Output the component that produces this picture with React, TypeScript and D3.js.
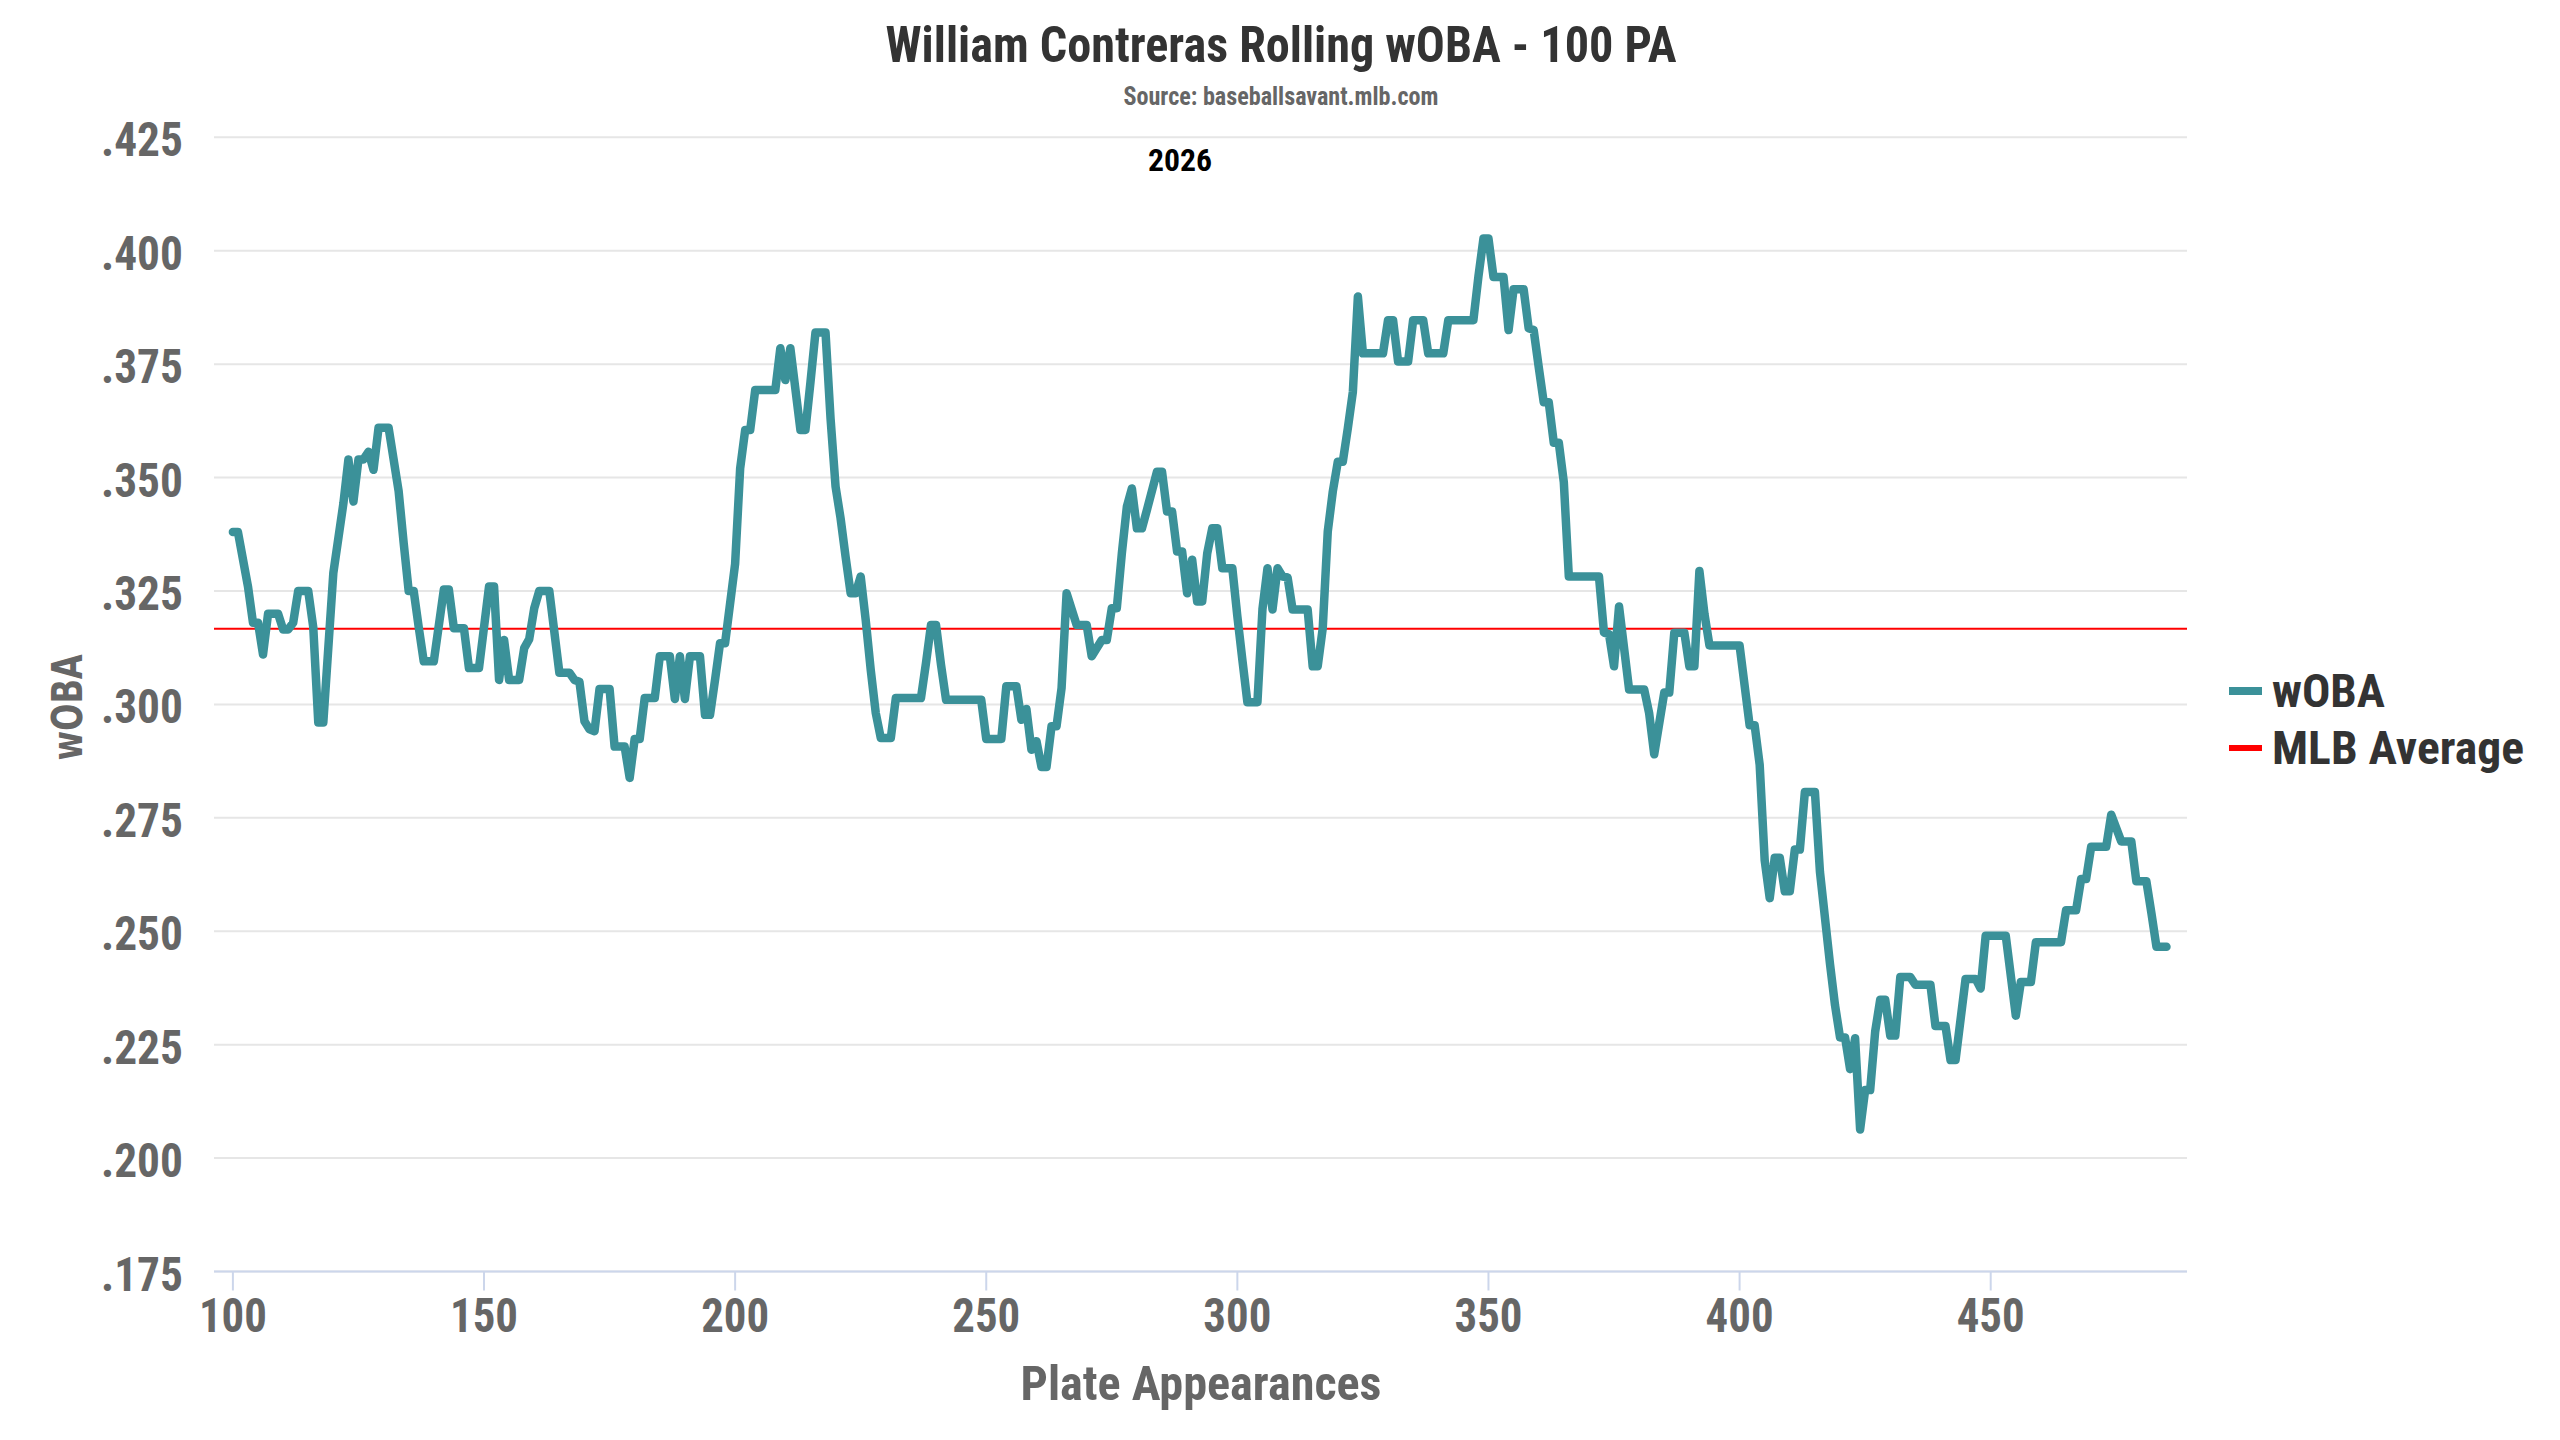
import React from "react";
import * as d3 from "d3";

const PA_VALUES = [
  100, 101, 103, 104, 105, 106, 107, 109, 110, 111, 112, 113, 115, 116, 117, 118, 120, 122, 123, 124,
  125, 126, 127, 128, 129, 131, 133, 134, 135, 136, 137, 138, 140, 142, 143, 144, 146, 147, 149, 151,
  152, 153, 154, 155, 157, 158, 159, 160, 161, 163, 165, 167, 168, 169, 170, 171, 172, 173, 175, 176,
  178, 179, 180, 181, 182, 184, 185, 187, 188, 189, 190, 191, 193, 194, 195, 196, 197, 198, 200, 201,
  202, 203, 204, 208, 209, 210, 211, 213, 214, 215, 216, 218, 219, 220, 221, 222, 223, 224, 225, 226,
  227, 228, 229, 231, 232, 237, 238, 239, 240, 241, 242, 249, 250, 253, 254, 256, 257, 258, 259, 260,
  261, 262, 263, 264, 265, 266, 268, 270, 271, 273, 274, 275, 276, 277, 278, 279, 280, 281, 282, 284,
  285, 286, 287, 288, 289, 290, 291, 292, 293, 294, 295, 296, 297, 299, 300, 301, 302, 304, 305, 306,
  307, 308, 309, 310, 311, 314, 315, 316, 317, 318, 319, 320, 321, 322, 323, 324, 325, 329, 330, 331,
  332, 334, 335, 337, 338, 341, 342, 347, 348, 349, 350, 351, 353, 354, 355, 357, 358, 359, 360, 361,
  362, 363, 364, 365, 366, 372, 373, 374, 375, 376, 378, 381, 382, 383, 385, 386, 387, 389, 390, 391,
  392, 393, 394, 400, 402, 403, 404, 405, 406, 407, 408, 409, 410, 411, 412, 413, 415, 416, 418, 419,
  420, 421, 422, 423, 424, 425, 426, 427, 428, 429, 430, 431, 432, 434, 435, 438, 439, 441, 442, 443,
  445, 447, 448, 449, 453, 455, 456, 458, 459, 464, 465, 467, 468, 469, 470, 473, 474, 476, 478, 479,
  481, 482, 483, 485,
];

const WOBA_VALUES = [
  0.338, 0.338, 0.326, 0.318, 0.318, 0.311, 0.32, 0.32, 0.3165, 0.3165, 0.318, 0.325, 0.325, 0.317, 0.296, 0.296, 0.329, 0.3443, 0.354, 0.3447,
  0.354, 0.354, 0.3557, 0.3517, 0.361, 0.361, 0.347, 0.3356, 0.325, 0.325, 0.317, 0.3095, 0.3095, 0.3253, 0.3253, 0.3168, 0.3168, 0.308, 0.308, 0.326,
  0.326, 0.3054, 0.3142, 0.3054, 0.3054, 0.3124, 0.3144, 0.3212, 0.325, 0.325, 0.307, 0.307, 0.3054, 0.305, 0.2963, 0.2945, 0.2941, 0.3034, 0.3034, 0.2907,
  0.2907, 0.2838, 0.2924, 0.2924, 0.3014, 0.3014, 0.3106, 0.3106, 0.3012, 0.3106, 0.3012, 0.3106, 0.3106, 0.2977, 0.2977, 0.3054, 0.3135, 0.3135, 0.331, 0.352,
  0.3605, 0.3605, 0.3693, 0.3693, 0.3785, 0.3715, 0.3785, 0.3605, 0.3605, 0.371, 0.382, 0.382, 0.363, 0.348, 0.341, 0.3325, 0.3245, 0.3245, 0.3282, 0.3186,
  0.3076, 0.2981, 0.2926, 0.2926, 0.3014, 0.3014, 0.3091, 0.3175, 0.3175, 0.3087, 0.301, 0.301, 0.2924, 0.2924, 0.304, 0.304, 0.2966, 0.299, 0.29, 0.2919,
  0.2862, 0.2862, 0.2952, 0.2952, 0.3036, 0.3245, 0.3175, 0.3175, 0.3106, 0.3142, 0.3142, 0.3212, 0.3212, 0.3333, 0.3436, 0.3476, 0.3388, 0.3388, 0.3429, 0.3513,
  0.3513, 0.3425, 0.3425, 0.3337, 0.3337, 0.3245, 0.3319, 0.3227, 0.3227, 0.3333, 0.3388, 0.3388, 0.33, 0.33, 0.3194, 0.3098, 0.3005, 0.3005, 0.321, 0.33,
  0.3209, 0.33, 0.3282, 0.328, 0.3209, 0.3209, 0.3084, 0.3084, 0.3168, 0.3381, 0.3469, 0.3535, 0.3535, 0.3609, 0.3689, 0.3899, 0.3774, 0.3774, 0.3847, 0.3847,
  0.3756, 0.3756, 0.3847, 0.3847, 0.3774, 0.3774, 0.3847, 0.3847, 0.3943, 0.4027, 0.4027, 0.3942, 0.3942, 0.3825, 0.3915, 0.3915, 0.3829, 0.3825, 0.3744, 0.3666,
  0.3666, 0.3577, 0.3577, 0.349, 0.3282, 0.3282, 0.3158, 0.3155, 0.3084, 0.3216, 0.3033, 0.3033, 0.298, 0.289, 0.3026, 0.3026, 0.3158, 0.3158, 0.3084, 0.3084,
  0.3294, 0.32, 0.313, 0.313, 0.2954, 0.2954, 0.2867, 0.2656, 0.2573, 0.2662, 0.2662, 0.2588, 0.2588, 0.268, 0.268, 0.2807, 0.2807, 0.2631, 0.2428, 0.2337,
  0.2266, 0.2266, 0.2196, 0.2264, 0.2063, 0.215, 0.215, 0.2279, 0.2349, 0.2349, 0.227, 0.227, 0.2399, 0.2399, 0.2382, 0.2382, 0.2291, 0.2291, 0.2216, 0.2216,
  0.2395, 0.2395, 0.2374, 0.249, 0.249, 0.2314, 0.2388, 0.2388, 0.2476, 0.2476, 0.2546, 0.2546, 0.2615, 0.2615, 0.2686, 0.2686, 0.2757, 0.2698, 0.2698, 0.261,
  0.261, 0.254, 0.2466, 0.2466,
];

const MLB_AVERAGE = 0.3167;
const Y_TICKS = [0.175, 0.2, 0.225, 0.25, 0.275, 0.3, 0.325, 0.35, 0.375, 0.4, 0.425];
const X_TICKS = [100, 150, 200, 250, 300, 350, 400, 450];
const SERIES_NAMES = ["wOBA", "MLB Average"];
const TITLE = "William Contreras Rolling wOBA - 100 PA";
const SUBTITLE = "Source: baseballsavant.mlb.com";
const SEASON = "2026";

const W = 2560;
const H = 1440;
const PLOT_LEFT = 214;
const PLOT_RIGHT = 2187;
const TEAL = "#3b9199";
const RED = "#ff0000";
const COND = "'Roboto Condensed', 'Liberation Sans Narrow', 'DejaVu Sans Condensed', Roboto, sans-serif";

export default function App() {
  const x = d3.scaleLinear().domain([100, 450]).range([232.9, 1990.7]);
  const y = d3.scaleLinear().domain([0.175, 0.425]).range([1271.5, 137.3]);
  const points: [number, number][] = PA_VALUES.map((p, i) => [p, WOBA_VALUES[i]]);
  const line = d3
    .line<[number, number]>()
    .x((d) => x(d[0]))
    .y((d) => y(d[1]));
  const fmt = (v: number) => d3.format(".3f")(v).replace(/^0/, "");
  const yBottom = y(0.175);

  return (
    <div style={{ position: "absolute", left: 0, top: 0, width: W, height: H, background: "#fff" }}>
      <svg width={W} height={H} viewBox={`0 0 ${W} ${H}`} style={{ display: "block" }}>
        <rect x={0} y={0} width={W} height={H} fill="#ffffff" />
        {/* grid */}
        {Y_TICKS.map((t) => (
          <line key={`g${t}`} x1={PLOT_LEFT} x2={PLOT_RIGHT} y1={y(t)} y2={y(t)} stroke="#e6e6e6" strokeWidth={2} />
        ))}
        {/* x axis */}
        <line x1={PLOT_LEFT} x2={PLOT_RIGHT} y1={yBottom} y2={yBottom} stroke="#ccd6eb" strokeWidth={2} />
        {X_TICKS.map((t) => (
          <g key={`xt${t}`}>
            <line x1={x(t)} x2={x(t)} y1={yBottom} y2={yBottom + 19} stroke="#ccd6eb" strokeWidth={2} />
            <text
              x={x(t)}
              y={1332}
              textAnchor="middle"
              fontFamily={COND}
              fontWeight="bold"
              fontSize={49}
              fill="#666666"
              textLength={68}
              lengthAdjust="spacingAndGlyphs"
            >
              {t}
            </text>
          </g>
        ))}
        {/* y tick labels */}
        {Y_TICKS.map((t) => (
          <text
            key={`yt${t}`}
            x={183}
            y={y(t) + 19}
            textAnchor="end"
            fontFamily={COND}
            fontWeight="bold"
            fontSize={49}
            fill="#666666"
            textLength={82}
            lengthAdjust="spacingAndGlyphs"
          >
            {fmt(t)}
          </text>
        ))}
        {/* MLB average */}
        <line x1={PLOT_LEFT} x2={PLOT_RIGHT} y1={y(MLB_AVERAGE)} y2={y(MLB_AVERAGE)} stroke={RED} strokeWidth={2} />
        {/* wOBA series */}
        <path d={line(points) || ""} fill="none" stroke={TEAL} strokeWidth={8.5} strokeLinejoin="round" strokeLinecap="round" />
        {/* titles */}
        <text x={1281} y={62} textAnchor="middle" fontFamily={COND} fontWeight="bold" fontSize={50} fill="#333333" textLength={791} lengthAdjust="spacingAndGlyphs">
          {TITLE}
        </text>
        <text x={1281} y={105} textAnchor="middle" fontFamily={COND} fontWeight="bold" fontSize={25} fill="#666666" textLength={315} lengthAdjust="spacingAndGlyphs">
          {SUBTITLE}
        </text>
        <text x={1180} y={171} textAnchor="middle" fontFamily={COND} fontWeight="bold" fontSize={32} fill="#000000" textLength={64} lengthAdjust="spacingAndGlyphs">
          {SEASON}
        </text>
        <text x={1201} y={1400} textAnchor="middle" fontFamily={COND} fontWeight="bold" fontSize={48} fill="#666666" textLength={361} lengthAdjust="spacingAndGlyphs">
          Plate Appearances
        </text>
        <text
          transform={`translate(82, ${(y(0.175) + y(0.425)) / 2 + 3}) rotate(-90)`}
          textAnchor="middle"
          fontFamily="'DejaVu Sans', Roboto, sans-serif"
          fontWeight="bold"
          fontSize={42}
          fill="#666666"
          textLength={106}
          lengthAdjust="spacingAndGlyphs"
        >
          wOBA
        </text>
        {/* legend */}
        <line x1={2229} x2={2262} y1={691} y2={691} stroke={TEAL} strokeWidth={8} />
        <text x={2272} y={707} fontFamily={COND} fontWeight="bold" fontSize={46} fill="#333333" textLength={113} lengthAdjust="spacingAndGlyphs">
          {SERIES_NAMES[0]}
        </text>
        <line x1={2229} x2={2262} y1={748} y2={748} stroke={RED} strokeWidth={6} />
        <text x={2272} y={764} fontFamily={COND} fontWeight="bold" fontSize={46} fill="#333333" textLength={252} lengthAdjust="spacingAndGlyphs">
          {SERIES_NAMES[1]}
        </text>
      </svg>
    </div>
  );
}
